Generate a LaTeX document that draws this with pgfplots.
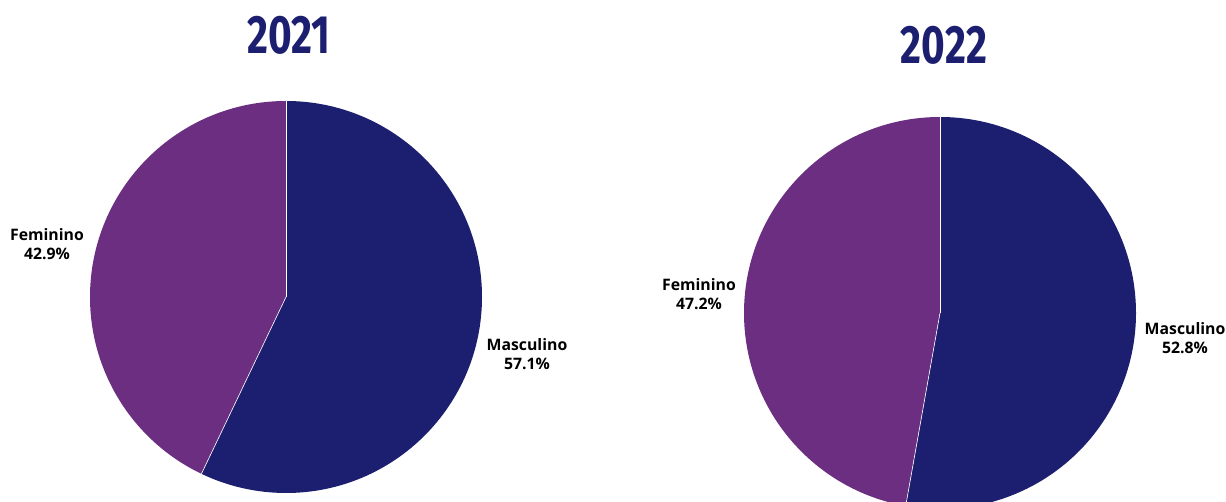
\documentclass[border=0pt]{standalone}
\usepackage{fontspec}
\setmainfont{Open Sans}
\newfontfamily\titlefont{Fira Sans}
\usepackage{pgfplots}
\usepackage{pgfplotstable}
\pgfplotsset{compat=1.18}

\definecolor{masc}{HTML}{1C1F6F}
\definecolor{fem}{HTML}{6B2E81}

% share of each group, percent
\pgfplotstableread{
year masculino feminino
2021 57.1 42.9
2022 52.8 47.2
}\shares

\pgfplotsset{
    pie/.style={
        hide axis,
        scale only axis,
        width=196pt, height=196pt,
        xmin=-1, xmax=1, ymin=-1, ymax=1,
        clip=false,
        anchor=center,
    },
}

% #1 = row of \shares; wedges start at 12 o'clock and run clockwise
\newcommand{\drawpie}[1]{%
    \pgfplotstablegetelem{#1}{masculino}\of\shares
    \pgfmathsetmacro{\mend}{90-3.6*\pgfplotsretval}%
    \fill[masc] (axis cs:0,0) -- (axis cs:0,1)
        arc[start angle=90, end angle=\mend, radius=98pt] -- cycle;
    \fill[fem] (axis cs:0,0) -- (axis cs:0,1)
        arc[start angle=90, end angle=\mend+360, radius=98pt] -- cycle;
    \draw[white, line width=0.3pt] (axis cs:0,0) -- (axis cs:0,1);
    \draw[white, line width=0.3pt] (axis cs:0,0) -- ++(\mend:98pt);
}

\tikzset{lbl/.style={align=center, inner sep=0pt,
    font=\fontsize{7.9}{9.6}\selectfont\bfseries}}

\begin{document}
\begin{tikzpicture}
\useasboundingbox (0,0) rectangle (613pt,251pt);
\clip (0,0) rectangle (613pt,251pt);

\begin{axis}[pie, at={(143pt,102.5pt)}]
    \drawpie{0}
\end{axis}
\begin{axis}[pie, at={(470pt,94.5pt)}]
    \drawpie{1}
\end{axis}

\node[text=masc] at (144.5pt,233.5pt)
    {\scalebox{0.75}[1]{\titlefont\fontsize{27}{27}\selectfont\bfseries 2021}};
\node[text=masc] at (472pt,228.5pt)
    {\scalebox{0.75}[1]{\titlefont\fontsize{27}{27}\selectfont\bfseries 2022}};

\node[lbl] at (23.5pt,129pt) {Feminino\\42.9\%};
\node[lbl] at (263.5pt,74pt) {Masculino\\57.1\%};
\node[lbl] at (349.5pt,104pt) {Feminino\\47.2\%};
\node[lbl] at (592.5pt,82pt) {Masculino\\52.8\%};
\end{tikzpicture}
\end{document}
